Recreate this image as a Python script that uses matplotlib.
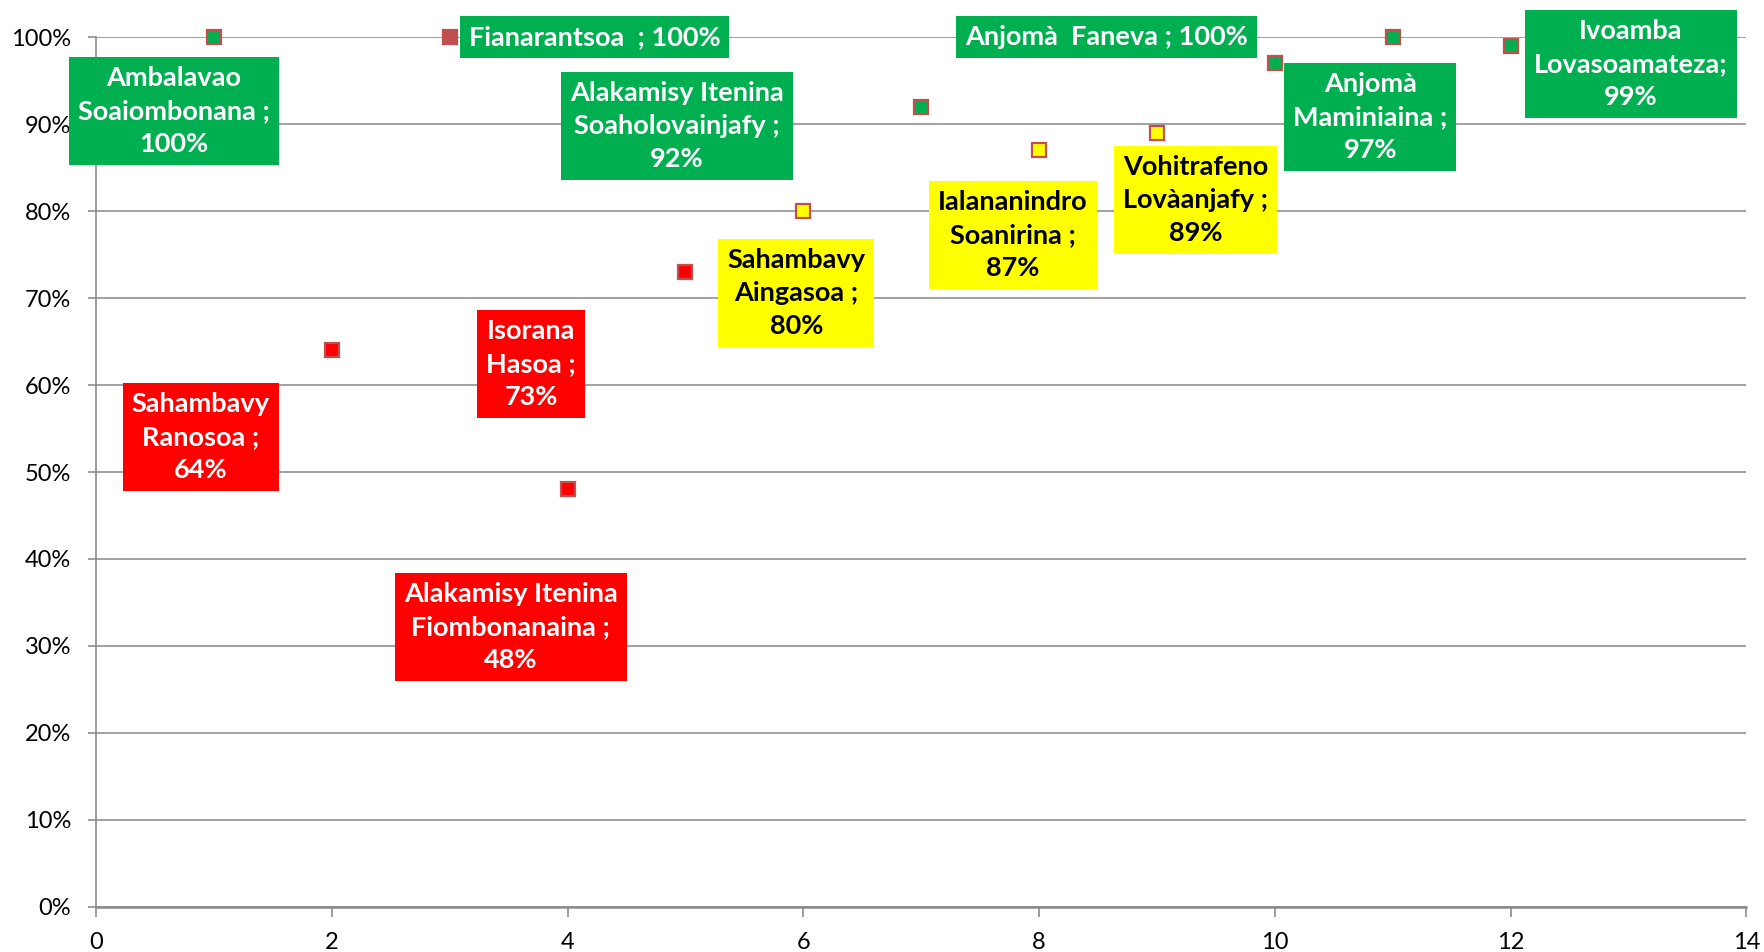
import matplotlib
matplotlib.use("Agg")
import matplotlib.pyplot as plt
from matplotlib.ticker import PercentFormatter, MultipleLocator

plt.rcParams['font.family'] = ['Lato', 'DejaVu Sans']

# ---- data ----
x_vals = [1, 2, 3, 4, 5, 6, 7, 8, 9, 10, 11, 12]
y_vals = [1.00, 0.64, 1.00, 0.48, 0.73, 0.80, 0.92, 0.87, 0.89, 0.97, 1.00, 0.99]
label_names = [
    "Ambalavao\nSoaiombonana ;\n",
    "Sahambavy\nRanosoa ;\n",
    "Fianarantsoa  ; ",
    "Alakamisy Itenina\nFiombonanaina ;\n",
    "Isorana\nHasoa ;\n",
    "Sahambavy\nAingasoa ;\n",
    "Alakamisy Itenina\nSoaholovainjafy ;\n",
    "Ialananindro\nSoanirina ;\n",
    "Vohitrafeno\nLovàanjafy ;\n",
    "Anjomà\nMaminiaina ;\n",
    "Anjomà  Faneva ; ",
    "Ivoamba\nLovasoamateza;\n",
]
# label box centres (data coordinates)
label_x = [0.66, 0.89, 4.23, 3.52, 3.69, 5.94, 4.93, 7.78, 9.33, 10.81, 8.57, 13.02]
label_y = [0.915, 0.540, 1.000, 0.322, 0.624, 0.706, 0.898, 0.772, 0.813, 0.908, 1.000, 0.969]
x_ticks = [0, 2, 4, 6, 8, 10, 12, 14]

GREEN = '#00B050'
YELLOW = '#FFFF00'
RED = '#FF0000'
EDGE = '#C0504D'


def level_color(v):
    if v >= 0.9:
        return GREEN
    if v >= 0.8:
        return YELLOW
    return RED


fig = plt.figure(figsize=(17.64, 9.52), dpi=100)
ax = fig.add_axes([0.0544, 0.0473, 0.9356, 0.9138])

ax.set_xlim(0, 14)
ax.set_ylim(0, 1)

ax.yaxis.set_major_locator(MultipleLocator(0.1))
ax.yaxis.set_major_formatter(PercentFormatter(1.0, decimals=0))
ax.set_xticks(x_ticks)
ax.grid(axis='y', color='#9a9a9a', lw=1.3)
ax.set_axisbelow(True)

for s in ['top', 'right']:
    ax.spines[s].set_visible(False)
ax.spines['left'].set_color('#8c8c8c')
ax.spines['left'].set_linewidth(1.2)
ax.spines['bottom'].set_color('#8c8c8c')
ax.spines['bottom'].set_linewidth(1.8)
ax.tick_params(axis='y', length=6, width=1.2, color='#8c8c8c', pad=12, labelsize=17)
ax.tick_params(axis='x', length=7, width=1.2, color='#8c8c8c', pad=11, labelsize=17)

for i, (x, y) in enumerate(zip(x_vals, y_vals)):
    face = EDGE if i == 2 else level_color(y)
    ax.plot([x], [y], marker='s', ms=9.5, mfc=face, mec=EDGE, mew=1.6,
            ls='none', clip_on=False, zorder=4)

for name, v, lx, ly in zip(label_names, y_vals, label_x, label_y):
    c = level_color(v)
    tc = 'black' if c == YELLOW else 'white'
    ax.text(lx, ly, f"{name}{round(v * 100)}%", ha='center', va='center',
            fontsize=19.5, fontweight='bold', color=tc, linespacing=1.45,
            zorder=5, clip_on=False,
            bbox=dict(boxstyle='square,pad=0.33', fc=c, ec='none'))

fig.savefig('out.png', dpi=100)
